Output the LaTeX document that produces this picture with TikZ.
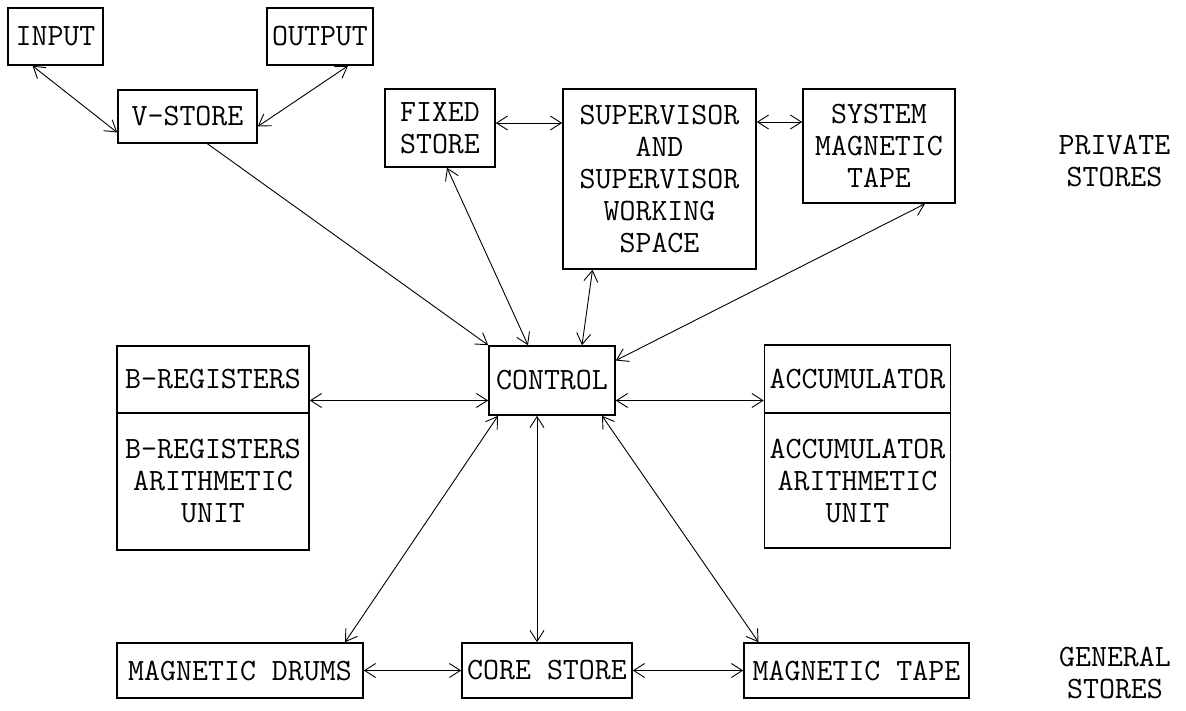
\documentclass[tikz,border=0pt]{standalone}
\usepackage{fontspec}
\usetikzlibrary{arrows.meta}
\newcommand\dgfont{\fontsize{31}{32}\selectfont\ttfamily}
\tikzset{
  unit/.style={draw, line width=1.6pt, inner sep=0pt, align=center, font=\dgfont},
  lbl/.style={inner sep=0pt, align=center, font=\dgfont},
  bi/.style={line width=0.9pt, {Straight Barb[length=11pt,width=14pt]}-{Straight Barb[length=11pt,width=14pt]}},
  uni/.style={line width=0.9pt, -{Straight Barb[length=11pt,width=14pt]}}
}
\begin{document}
\begin{tikzpicture}[x=1pt,y=-1pt]
\useasboundingbox (0,0) rectangle (1186,711);
% top row
\node[unit, minimum width=95pt, minimum height=57pt] (input) at (55.5,36.5) {INPUT};
\node[unit, minimum width=106pt, minimum height=57pt] (output) at (320,36.5) {OUTPUT};
\node[unit, minimum width=139pt, minimum height=53pt] (vstore) at (187.5,116.5) {V-STORE};
\node[unit, minimum width=110pt, minimum height=78pt] (fixed) at (440,128) {FIXED\\STORE};
\node[unit, minimum width=193pt, minimum height=180pt] (super) at (659.5,179) {SUPERVISOR\\AND\\SUPERVISOR\\WORKING\\SPACE};
\node[unit, minimum width=152pt, minimum height=114pt] (system) at (879,146) {SYSTEM\\MAGNETIC\\TAPE};
\node[lbl] (private) at (1114.5,161) {PRIVATE\\STORES};
% middle row
\node[unit, minimum width=192pt, minimum height=67pt] (breg) at (213,379.5) {B-REGISTERS};
\node[unit, minimum width=192pt, minimum height=137pt] (bregau) at (213,481.5) {B-REGISTERS\\ARITHMETIC\\UNIT};
\node[unit, minimum width=126pt, minimum height=69pt] (control) at (552,380.5) {CONTROL};
\node[unit, minimum width=186pt, minimum height=68pt] (acc) at (857.5,379) {ACCUMULATOR};
\node[unit, minimum width=186pt, minimum height=135pt] (accau) at (857.5,480.5) {ACCUMULATOR\\ARITHMETIC\\UNIT};
% bottom row
\node[unit, minimum width=246pt, minimum height=55pt] (drums) at (240,670.5) {MAGNETIC DRUMS};
\node[unit, minimum width=170pt, minimum height=55pt] (core) at (547,670.5) {CORE STORE};
\node[unit, minimum width=225pt, minimum height=55pt] (tape) at (856.5,670.5) {MAGNETIC TAPE};
\node[lbl] (general) at (1115,673) {GENERAL\\STORES};
% connectors
\draw[bi] ([xshift=-23pt]input.south) -- ([yshift=-16pt]vstore.west);
\draw[bi] ([xshift=28pt]output.south) -- ([yshift=-10pt]vstore.east);
\draw[uni] ([xshift=20pt]vstore.south) -- (control.north west);
\draw[bi] ([xshift=7pt]fixed.south) -- ([xshift=-24pt]control.north);
\draw[bi] ([xshift=-67pt]super.south) -- ([xshift=30pt]control.north);
\draw[bi] ([xshift=46pt]system.south) -- ([yshift=20pt]control.east);
\draw[bi] ([yshift=5pt]fixed.east) -- ([yshift=5pt]fixed.east -| super.west);
\draw[bi] ([yshift=24pt]system.west -| super.east) -- ([yshift=24pt]system.west);
\draw[bi] ([yshift=-20pt]control.west -| breg.east) -- ([yshift=-20pt]control.west);
\draw[bi] ([yshift=-20pt]control.east) -- ([yshift=-20pt]control.east -| acc.west);
\draw[bi] ([xshift=-54pt]control.south) -- ([xshift=105pt]drums.north);
\draw[bi] ([xshift=-15pt]control.south) -- ([xshift=-10pt]core.north);
\draw[bi] ([xshift=50pt]control.south) -- ([xshift=-98pt]tape.north);
\draw[bi] (drums.east) -- (core.west);
\draw[bi] (core.east) -- (tape.west);
\end{tikzpicture}
\end{document}
